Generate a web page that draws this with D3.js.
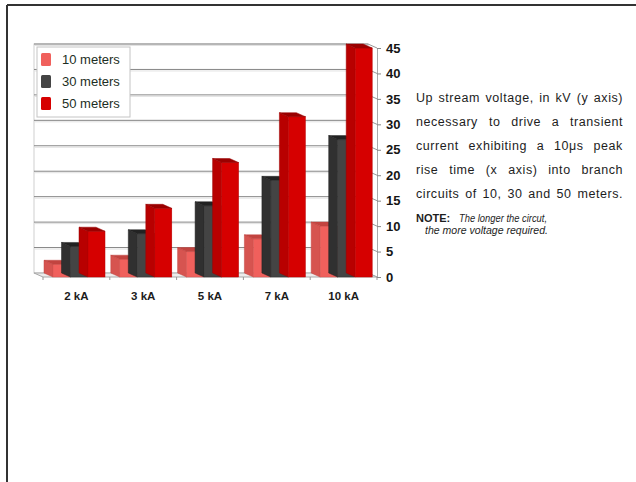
<!DOCTYPE html>
<html>
<head>
<meta charset="utf-8">
<script src="https://cdn.jsdelivr.net/npm/d3@7"></script>
<style>
  body { margin: 0; background: #fff; }
  svg { display: block; font-family: 'Liberation Sans', Arial, Helvetica, sans-serif; }
</style>
</head>
<body>
<div class="js-chart"></div>
<script>
// Chart values:
var categories = ['2 kA', '3 kA', '5 kA', '7 kA', '10 kA'];
var seriesNames = ['10 meters', '30 meters', '50 meters'];
var meters10 = [2.5, 3.5, 5, 7.5, 10];
var meters30 = [6, 8.5, 14, 19, 27];
var meters50 = [9, 13.5, 22.5, 31.5, 45];
var yTicks = [0, 5, 10, 15, 20, 25, 30, 35, 40, 45];

var captionLines = [
  'Up stream voltage, in kV (y axis)',
  'necessary to drive a transient',
  'current exhibiting a 10\u03bcs peak',
  'rise time (x axis) into branch',
  'circuits of 10, 30 and 50 meters.'
];
var noteLabel = 'NOTE:';
var noteLines = ['The longer the circut,', 'the more voltage required.'];

(function() {
  'use strict';

  var totalW = 636,
      totalH = 482;

  // 3D depth offset: back plane is shifted left and up.
  var DX = 9,
      DY = 4;

  var series = [
    {name: seriesNames[0], values: meters10, front: '#f0605c', side: '#d65450', top: '#c24440'},
    {name: seriesNames[1], values: meters30, front: '#444444', side: '#303030', top: '#222222'},
    {name: seriesNames[2], values: meters50, front: '#d60000', side: '#b80000', top: '#9a0000'}
  ];

  var svg = d3.select('.js-chart')
              .append('svg')
              .attr('width', totalW)
              .attr('height', totalH);

  // Page frame
  svg.append('line')
      .attr('x1', 7).attr('x2', totalW).attr('y1', 5).attr('y2', 5)
      .style('stroke', '#333').style('stroke-width', 2);
  svg.append('line')
      .attr('x1', 7).attr('x2', 7).attr('y1', 5).attr('y2', totalH)
      .style('stroke', '#333').style('stroke-width', 2);

  // Scales are for the front plane.
  var xScale = d3.scaleBand()
                  .domain(categories)
                  .range([43, 377]);

  var yScale = d3.scaleLinear()
                  .domain([0, 45])
                  .range([277, 48]);

  var x0 = xScale.range()[0],
      x1 = xScale.range()[1],
      yBase = yScale(0),
      yTopV = yScale(d3.max(yTicks));

  // Back wall
  svg.append('rect')
      .attr('x', x0 - DX)
      .attr('y', yTopV - DY)
      .attr('width', x1 - x0)
      .attr('height', yBase - yTopV)
      .style('fill', '#fff')
      .style('stroke', '#cfcfcf');

  // Gridlines on back wall
  svg.selectAll('.grid')
      .data(yTicks.slice(1))
    .enter().append('line')
      .classed('grid', true)
      .attr('x1', x0 - DX)
      .attr('x2', x1 - DX)
      .attr('y1', function(d) { return yScale(d) - DY; })
      .attr('y2', function(d) { return yScale(d) - DY; })
      .style('stroke', '#858585');

  svg.selectAll('.grid-hi')
      .data(yTicks.slice(1))
    .enter().append('line')
      .classed('grid-hi', true)
      .attr('x1', x0 - DX)
      .attr('x2', x1 - DX)
      .attr('y1', function(d) { return yScale(d) - DY + 1.5; })
      .attr('y2', function(d) { return yScale(d) - DY + 1.5; })
      .style('stroke', '#e2e2e2');

  // Slanted joins from the wall to the axis
  svg.selectAll('.join')
      .data(yTicks)
    .enter().append('line')
      .classed('join', true)
      .attr('x1', x1 - DX)
      .attr('x2', x1)
      .attr('y1', function(d) { return yScale(d) - DY; })
      .attr('y2', function(d) { return yScale(d); })
      .style('stroke', '#999');

  // Floor
  svg.append('polygon')
      .attr('points', [
        [x0 - DX, yBase - DY], [x1 - DX, yBase - DY],
        [x1, yBase], [x0, yBase]
      ].join(' '))
      .style('fill', '#ececec')
      .style('stroke', '#a8a8a8');

  // Category boundary ticks on the front floor edge
  var bounds = categories.map(function(c) { return xScale(c); }).concat([x1]);
  svg.selectAll('.ftick')
      .data(bounds)
    .enter().append('line')
      .classed('ftick', true)
      .attr('x1', function(d) { return d; })
      .attr('x2', function(d) { return d; })
      .attr('y1', yBase)
      .attr('y2', yBase + 3)
      .style('stroke', '#999');

  /**
   * Draw each 3D bar: left side face, front face and top face.
   */
  var step = 17.5,
      barW = 17;

  categories.forEach(function(c, k) {
    series.forEach(function(s, i) {
      var fl = xScale(c) + 10 + i * step;
      var yt = yScale(s.values[k]);
      var g = svg.append('g').classed('bar', true);

      g.append('polygon')
          .attr('points', [
            [fl, yt], [fl, yBase], [fl - DX, yBase - DY], [fl - DX, yt - DY]
          ].join(' '))
          .style('fill', s.side)
          .style('stroke', s.top)
          .style('stroke-width', 0.5);

      g.append('rect')
          .attr('x', fl)
          .attr('y', yt)
          .attr('width', barW)
          .attr('height', yBase - yt)
          .style('fill', s.front)
          .style('stroke', s.side)
          .style('stroke-width', 0.5);

      g.append('polygon')
          .attr('points', [
            [fl, yt], [fl + barW, yt], [fl + barW - DX, yt - DY], [fl - DX, yt - DY]
          ].join(' '))
          .style('fill', s.top)
          .style('stroke', s.top)
          .style('stroke-width', 0.5);
    });
  });

  // Right y axis
  var yAxis = svg.append('g')
                  .attr('transform', 'translate(' + x1 + ',0)')
                  .call(d3.axisRight(yScale)
                          .tickValues(yTicks)
                          .tickSize(4)
                          .tickPadding(5));
  yAxis.select('.domain').style('stroke', '#aaa');
  yAxis.selectAll('.tick line').style('stroke', '#888');
  yAxis.selectAll('text')
      .style('font-size', '13px')
      .style('font-weight', 'bold')
      .style('fill', '#151515');

  // Category labels
  svg.selectAll('.xlabel')
      .data(categories)
    .enter().append('text')
      .classed('xlabel', true)
      .attr('x', function(d) { return xScale(d) + xScale.bandwidth() / 2; })
      .attr('y', 300)
      .attr('text-anchor', 'middle')
      .style('font-size', '11.5px')
      .style('font-weight', 'bold')
      .style('fill', '#1c1c1c')
      .text(function(d) { return d; });

  // Legend
  var legend = svg.append('g').classed('legend', true);
  legend.append('rect')
      .attr('x', 37).attr('y', 47)
      .attr('width', 93).attr('height', 70)
      .style('fill', '#fff')
      .style('stroke', '#c4c4c4');

  var items = legend.selectAll('.item')
      .data(series)
    .enter().append('g')
      .classed('item', true)
      .attr('transform', function(d, i) { return 'translate(0,' + (i * 22) + ')'; });

  items.append('rect')
      .attr('x', 41).attr('y', 53)
      .attr('width', 10).attr('height', 13)
      .attr('rx', 1.5)
      .style('fill', function(d) { return d.front; });

  items.append('text')
      .attr('x', 62).attr('y', 64)
      .style('font-size', '13px')
      .style('fill', '#1c2e24')
      .text(function(d) { return d.name; });

  /**
   * Caption, justified between left and right edges, word by word.
   */
  var capLeft = 416,
      capRight = 623,
      capBase = 101.5,
      capLead = 24.2;

  captionLines.forEach(function(line, li) {
    var words = line.split(' ');
    var y = capBase + li * capLead;
    var nodes = words.map(function(w) {
      return svg.append('text')
                .attr('y', y)
                .style('font-size', '12.5px')
                .style('letter-spacing', '0.55px')
                .style('fill', '#1d1d1d')
                .text(w);
    });
    var widths = nodes.map(function(n) { return n.node().getBBox().width; });
    var gap = (capRight - capLeft - d3.sum(widths)) / (words.length - 1);
    var x = capLeft;
    nodes.forEach(function(n, i) {
      n.attr('x', x);
      x += widths[i] + gap;
    });
  });

  svg.append('text')
      .attr('x', 416).attr('y', 222)
      .style('font-size', '11px')
      .style('font-weight', 'bold')
      .style('fill', '#1d1d1d')
      .text(noteLabel);

  svg.append('text')
      .attr('x', 459).attr('y', 222)
      .attr('textLength', 88)
      .attr('lengthAdjust', 'spacingAndGlyphs')
      .style('font-size', '10px')
      .style('font-style', 'italic')
      .style('fill', '#1d1d1d')
      .text(noteLines[0]);

  svg.append('text')
      .attr('x', 425).attr('y', 234)
      .attr('textLength', 123)
      .attr('lengthAdjust', 'spacingAndGlyphs')
      .style('font-size', '10px')
      .style('font-style', 'italic')
      .style('fill', '#1d1d1d')
      .text(noteLines[1]);

}());
</script>
</body>
</html>
